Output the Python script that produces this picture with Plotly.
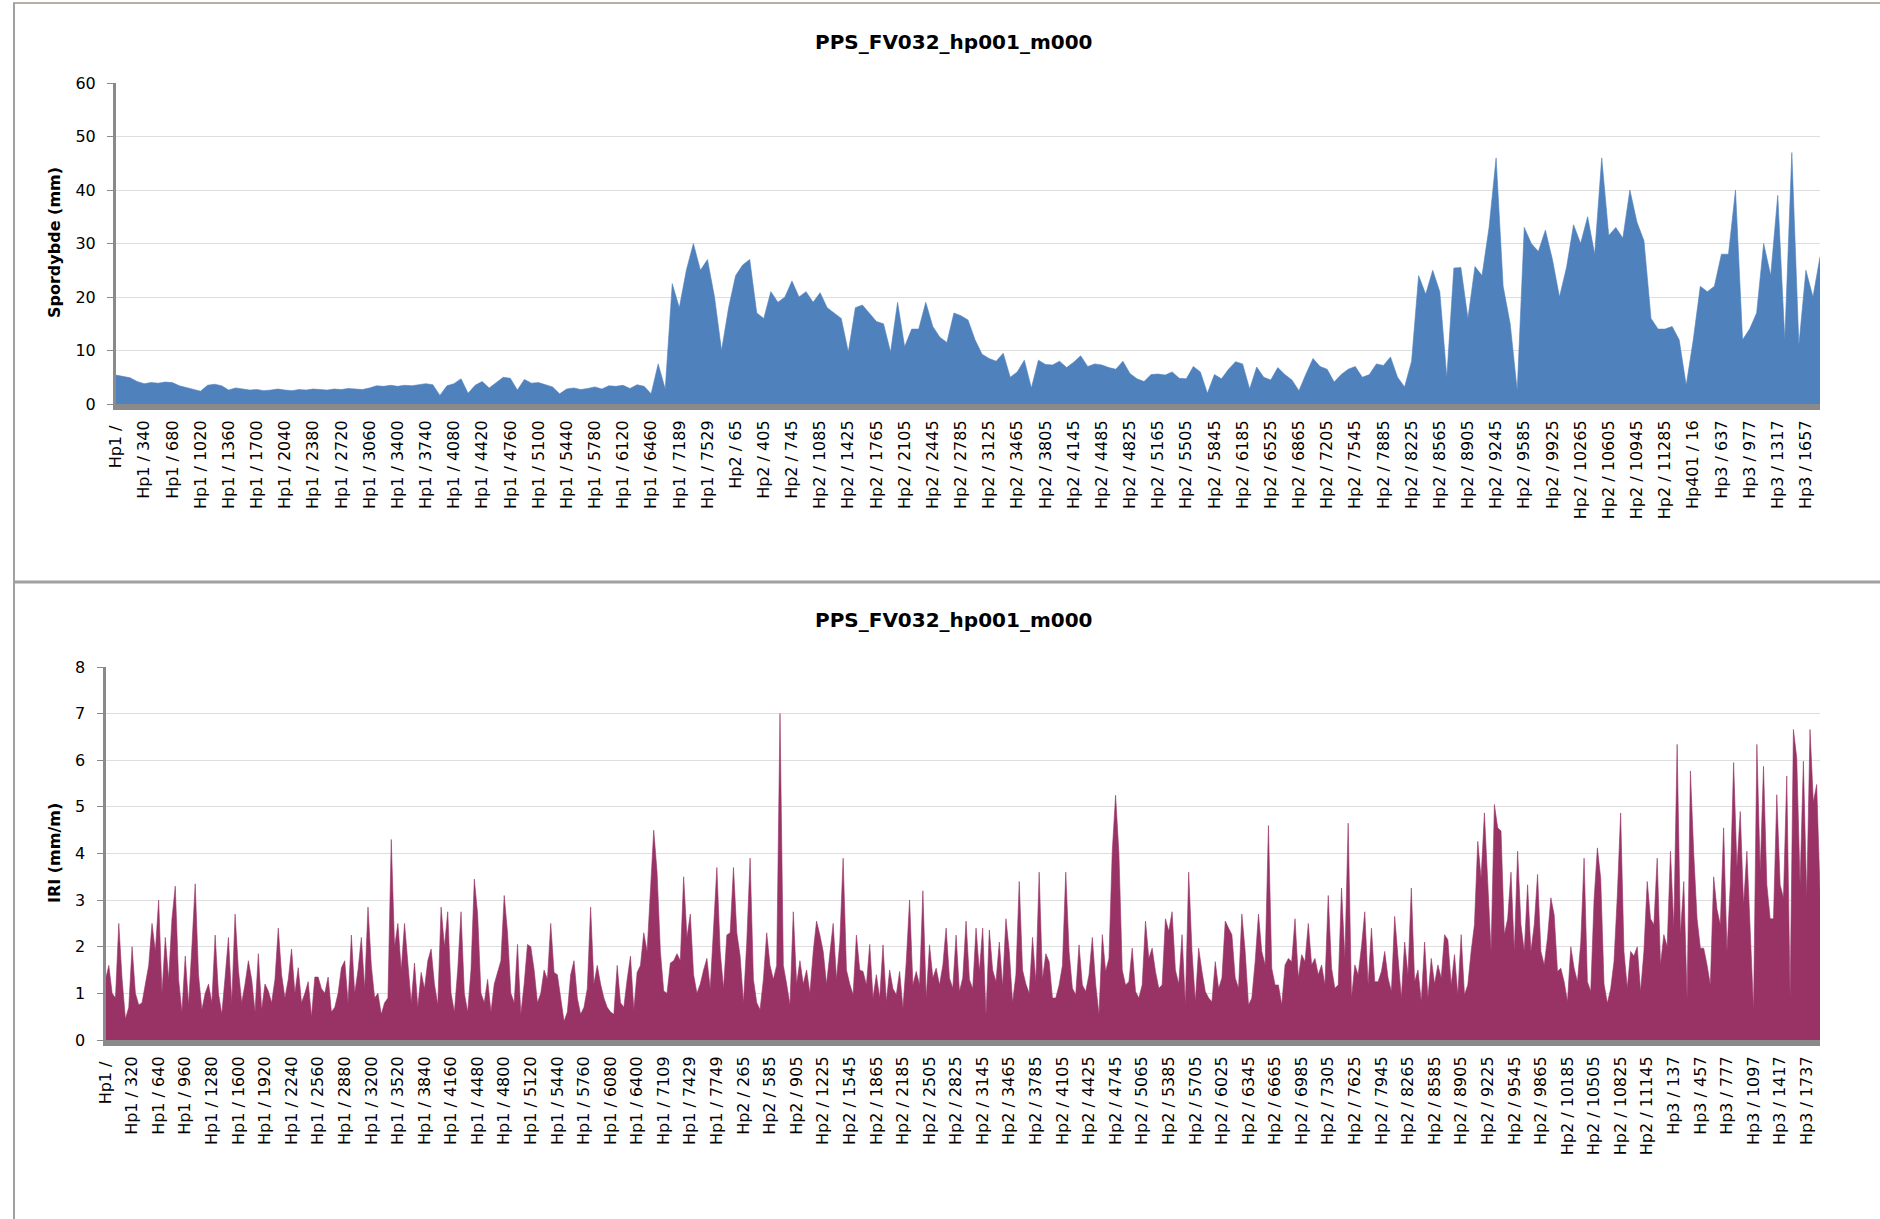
import numpy as np
import plotly.graph_objects as go

# ---------------- data ----------------
# Spordybde (mm): 4 readings per labelled interval (labels every 340 m)
rut_depth = [
    5.4, 5.2, 4.9, 4.2,   3.8, 4.0, 3.9, 4.1,   4.0, 3.4, 3.1, 2.7,   2.4, 3.5, 3.7, 3.4,
    2.6, 3.0, 2.8, 2.6,   2.7, 2.5, 2.6, 2.8,   2.6, 2.5, 2.7, 2.6,   2.8, 2.7, 2.6, 2.8,
    2.7, 2.9, 2.8, 2.7,   3.0, 3.4, 3.3, 3.5,   3.3, 3.5, 3.4, 3.6,   3.8, 3.6, 1.6, 3.4,
    3.8, 4.7, 2.0, 3.5,   4.2, 3.0, 4.0, 5.0,   4.8, 2.6, 4.6, 3.9,   4.0, 3.6, 3.2, 1.9,
    2.8, 3.0, 2.7, 2.9,   3.2, 2.8, 3.4, 3.3,   3.5, 2.9, 3.6, 3.3,   1.9, 7.5, 2.8, 22.5,
    18, 25, 30, 25,       27, 20, 10, 18,       24, 26, 27, 17,       16, 21, 19, 20,
    23, 20, 21, 19,       20.8, 18, 17, 16,     9.7, 18, 18.5, 17,    15.4, 15, 9.7, 19,
    10.7, 14, 14, 19,     14.5, 12.5, 11.5, 17, 16.5, 15.7, 12, 9.3,  8.5, 8, 9.5, 5,
    6, 8.2, 3, 8.2,       7.4, 7.3, 8, 6.8,     7.8, 9, 7, 7.5,       7.3, 6.8, 6.5, 8,
    5.7, 4.7, 4.2, 5.5,   5.6, 5.4, 6.0, 4.8,   4.7, 7.0, 6, 2,       5.5, 4.7, 6.5, 7.9,
    7.5, 2.8, 6.9, 5,     4.5, 6.8, 5.5, 4.5,   2.5, 5.6, 8.5, 7,     6.5, 4.1, 5.5, 6.5,
    7, 5, 5.5, 7.5,       7.2, 8.8, 5, 3.2,     8, 24, 20.5, 25,      21, 5, 25.4, 25.5,
    16, 25.7, 24, 33,     46, 22, 15, 2.5,      33, 30, 28.5, 32.5,   27, 20, 25.5, 33.5,
    30, 35, 28, 46,       31.5, 33, 31, 40,     34, 30.5, 16, 14,     14, 14.5, 12, 3.5,
    12, 22, 21, 22,       28, 28, 40, 12,       14, 17, 30, 24,       39, 12, 47, 11,
    25, 20, 27.5,
]

# IRI (mm/m): 8 readings per labelled interval (labels every 320 m)
iri = [
    1.3, 1.6, 1.0, 0.9, 2.5, 1.3, 0.45, 0.7,
    2.0, 1.0, 0.75, 0.8, 1.2, 1.6, 2.5, 1.9,
    3.0, 1.0, 2.2, 1.3, 2.6, 3.3, 1.3, 0.6,
    1.8, 0.75, 2.0, 3.35, 1.4, 0.65, 1.0, 1.2,
    0.8, 2.25, 1.0, 0.55, 1.35, 2.2, 0.8, 2.7,
    1.5, 0.8, 1.2, 1.7, 1.3, 0.6, 1.85, 0.65,
    1.2, 1.05, 0.8, 1.3, 2.4, 1.4, 0.9, 1.3,
    1.95, 1.0, 1.55, 0.8, 1.0, 1.25, 0.5, 1.35,
    1.35, 1.1, 1.0, 1.35, 0.6, 0.7, 1.0, 1.55,
    1.7, 0.8, 2.25, 1.0, 1.5, 2.2, 1.1, 2.85,
    1.6, 0.9, 1.0, 0.55, 0.8, 0.9, 4.3, 2.0,
    2.5, 1.5, 2.5, 1.6, 0.8, 1.65, 0.7, 1.45,
    1.1, 1.7, 1.95, 1.2, 0.75, 2.85, 2.0, 2.75,
    1.0, 0.6, 1.5, 2.75, 1.0, 0.6, 1.5, 3.45,
    2.7, 1.0, 0.8, 1.3, 0.6, 1.2, 1.45, 1.7,
    3.1, 2.3, 1.0, 0.8, 2.05, 0.55, 1.2, 2.05,
    2.0, 1.5, 0.8, 1.0, 1.5, 1.3, 2.5, 1.45,
    1.4, 0.95, 0.4, 0.6, 1.4, 1.7, 0.9, 0.55,
    0.7, 1.1, 2.85, 1.2, 1.6, 1.2, 0.9, 0.7,
    0.6, 0.55, 1.6, 0.8, 0.7, 1.3, 1.8, 0.65,
    1.45, 1.6, 2.3, 1.9, 3.2, 4.5, 3.6, 1.9,
    1.05, 1.0, 1.65, 1.7, 1.85, 1.7, 3.5, 2.2,
    2.7, 1.4, 1.0, 1.2, 1.5, 1.75, 1.1, 2.5,
    3.7, 1.9, 1.1, 2.25, 2.3, 3.7, 2.3, 1.8,
    0.8, 2.1, 3.9, 1.3, 0.8, 0.65, 1.3, 2.3,
    1.6, 1.3, 1.6, 7.0, 1.6, 1.2, 0.75, 2.75,
    1.2, 1.7, 1.2, 1.5, 1.0, 1.9, 2.55, 2.25,
    1.9, 1.2, 1.8, 2.5, 1.3, 2.1, 3.9, 1.5,
    1.2, 0.97, 2.25, 1.5, 1.47, 1.18, 2.05, 0.9,
    1.4, 0.9, 2.04, 0.82, 1.5, 1.1, 0.97, 1.47,
    0.68, 1.68, 3.0, 1.18, 1.47, 1.18, 3.2, 0.9,
    2.04, 1.33, 1.54, 1.18, 1.6, 2.4, 1.33, 1.11,
    2.25, 1.04, 1.33, 2.55, 1.3, 1.1, 2.4, 1.47,
    2.4, 0.54, 2.36, 1.5, 1.25, 2.1, 1.15, 2.6,
    1.9, 0.8, 1.4, 3.4, 1.5, 1.2, 1.0, 2.2,
    1.25, 3.6, 1.3, 1.85, 1.68, 0.9, 0.9, 1.18,
    1.6, 3.6, 1.9, 1.11, 0.97, 2.04, 1.18, 1.04,
    1.4, 2.2, 1.2, 0.54, 2.26, 1.47, 1.75, 4.05,
    5.25, 4.0, 1.5, 1.18, 1.25, 1.97, 1.04, 0.9,
    1.18, 2.55, 1.75, 1.97, 1.47, 1.11, 1.18, 2.6,
    2.33, 2.75, 1.5, 1.2, 2.26, 0.75, 3.6, 1.9,
    0.82, 1.97, 1.47, 1.04, 0.9, 0.82, 1.68, 1.1,
    1.33, 2.55, 2.4, 2.26, 1.33, 1.11, 2.7, 1.9,
    0.75, 0.9, 1.68, 2.7, 1.9, 1.61, 4.6, 1.54,
    1.18, 1.18, 0.75, 1.61, 1.75, 1.68, 2.6, 1.33,
    1.83, 1.68, 2.5, 1.61, 1.75, 1.4, 1.61, 1.18,
    3.1, 1.54, 1.11, 1.18, 3.26, 1.75, 4.65, 0.9,
    1.61, 1.4, 2.0, 2.75, 1.18, 2.4, 1.25, 1.25,
    1.47, 1.9, 1.33, 1.04, 2.65, 1.68, 0.9, 2.1,
    1.4, 3.26, 1.25, 1.5, 0.82, 2.1, 0.9, 1.75,
    1.2, 1.61, 1.33, 2.26, 2.15, 1.18, 1.83, 0.97,
    2.26, 0.97, 1.18, 1.9, 2.47, 4.26, 3.47, 4.87,
    3.33, 1.9, 5.05, 4.55, 4.48, 2.26, 2.6, 3.6,
    1.9, 4.05, 2.47, 1.9, 3.33, 1.9, 2.47, 3.55,
    1.9, 1.61, 2.2, 3.05, 2.68, 1.47, 1.54, 1.25,
    0.82, 2.0, 1.54, 1.25, 2.1, 3.9, 1.25, 1.04,
    3.0, 4.12, 3.47, 1.2, 0.79, 1.1, 1.68, 3.1,
    4.87, 1.9, 1.11, 1.9, 1.8, 2.0, 1.04, 1.9,
    3.4, 2.6, 2.47, 3.9, 1.61, 2.26, 2.0, 4.05,
    2.4, 6.34, 2.26, 3.4, 0.9, 5.77, 4.0, 2.6,
    1.97, 1.97, 1.61, 1.18, 3.5, 2.8, 2.47, 4.55,
    1.9, 3.33, 5.95, 3.7, 4.9, 2.9, 4.05, 2.26,
    0.64, 6.34, 3.6, 5.87, 3.33, 2.6, 2.6, 5.26,
    3.33, 3.05, 5.66, 0.9, 6.66, 6.05, 3.33, 5.98,
    3.05, 6.66, 5.1, 5.48, 3.2,
]

top_ticks = [
    "Hp1 / ", "Hp1 / 340", "Hp1 / 680", "Hp1 / 1020", "Hp1 / 1360", "Hp1 / 1700",
    "Hp1 / 2040", "Hp1 / 2380", "Hp1 / 2720", "Hp1 / 3060", "Hp1 / 3400", "Hp1 / 3740",
    "Hp1 / 4080", "Hp1 / 4420", "Hp1 / 4760", "Hp1 / 5100", "Hp1 / 5440", "Hp1 / 5780",
    "Hp1 / 6120", "Hp1 / 6460", "Hp1 / 7189", "Hp1 / 7529", "Hp2 / 65", "Hp2 / 405",
    "Hp2 / 745", "Hp2 / 1085", "Hp2 / 1425", "Hp2 / 1765", "Hp2 / 2105", "Hp2 / 2445",
    "Hp2 / 2785", "Hp2 / 3125", "Hp2 / 3465", "Hp2 / 3805", "Hp2 / 4145", "Hp2 / 4485",
    "Hp2 / 4825", "Hp2 / 5165", "Hp2 / 5505", "Hp2 / 5845", "Hp2 / 6185", "Hp2 / 6525",
    "Hp2 / 6865", "Hp2 / 7205", "Hp2 / 7545", "Hp2 / 7885", "Hp2 / 8225", "Hp2 / 8565",
    "Hp2 / 8905", "Hp2 / 9245", "Hp2 / 9585", "Hp2 / 9925", "Hp2 / 10265", "Hp2 / 10605",
    "Hp2 / 10945", "Hp2 / 11285", "Hp401 / 16", "Hp3 / 637", "Hp3 / 977", "Hp3 / 1317",
    "Hp3 / 1657",
]

bottom_ticks = [
    "Hp1 / ", "Hp1 / 320", "Hp1 / 640", "Hp1 / 960", "Hp1 / 1280", "Hp1 / 1600",
    "Hp1 / 1920", "Hp1 / 2240", "Hp1 / 2560", "Hp1 / 2880", "Hp1 / 3200", "Hp1 / 3520",
    "Hp1 / 3840", "Hp1 / 4160", "Hp1 / 4480", "Hp1 / 4800", "Hp1 / 5120", "Hp1 / 5440",
    "Hp1 / 5760", "Hp1 / 6080", "Hp1 / 6400", "Hp1 / 7109", "Hp1 / 7429", "Hp1 / 7749",
    "Hp2 / 265", "Hp2 / 585", "Hp2 / 905", "Hp2 / 1225", "Hp2 / 1545", "Hp2 / 1865",
    "Hp2 / 2185", "Hp2 / 2505", "Hp2 / 2825", "Hp2 / 3145", "Hp2 / 3465", "Hp2 / 3785",
    "Hp2 / 4105", "Hp2 / 4425", "Hp2 / 4745", "Hp2 / 5065", "Hp2 / 5385", "Hp2 / 5705",
    "Hp2 / 6025", "Hp2 / 6345", "Hp2 / 6665", "Hp2 / 6985", "Hp2 / 7305", "Hp2 / 7625",
    "Hp2 / 7945", "Hp2 / 8265", "Hp2 / 8585", "Hp2 / 8905", "Hp2 / 9225", "Hp2 / 9545",
    "Hp2 / 9865", "Hp2 / 10185", "Hp2 / 10505", "Hp2 / 10825", "Hp2 / 11145", "Hp3 / 137",
    "Hp3 / 457", "Hp3 / 777", "Hp3 / 1097", "Hp3 / 1417", "Hp3 / 1737",
]

chart_title = "PPS_FV032_hp001_m000"
top_ytitle = "Spordybde (mm)"
bottom_ytitle = "IRI (mm/m)"

PTS_TOP = 4
PTS_BOT = 8

# ---------------- figure ----------------
W, H = 1880, 1219
BLUE = "#4F81BD"
PLUM = "#993366"
AXIS_GRAY = "#8a8a8a"
GRID = "#dedede"
FONT = "DejaVu Sans"

x_top = np.arange(len(rut_depth)) / PTS_TOP
x_bot = np.arange(len(iri)) / PTS_BOT

fig = go.Figure()
fig.add_trace(go.Scatter(
    x=x_top, y=rut_depth, xaxis="x", yaxis="y", mode="lines",
    line=dict(color=BLUE, width=0.6), fill="tozeroy", fillcolor=BLUE,
    hoverinfo="x+y", showlegend=False))
fig.add_trace(go.Scatter(
    x=x_bot, y=iri, xaxis="x2", yaxis="y2", mode="lines",
    line=dict(color=PLUM, width=0.6), fill="tozeroy", fillcolor=PLUM,
    hoverinfo="x+y", showlegend=False))


def px_x(v):
    return v / W


def px_y(v):
    return 1 - v / H


tickfont = dict(family=FONT, size=16, color="#000000")

xcommon = dict(tickmode="array", tickangle=-90, showgrid=False, zeroline=False,
               showline=True, linecolor=AXIS_GRAY, linewidth=6, ticks="",
               tickfont=tickfont, ticklabelstandoff=4, fixedrange=True, automargin=False)
ycommon = dict(showgrid=True, gridcolor=GRID, gridwidth=1, zeroline=False,
               showline=True, linecolor=AXIS_GRAY, linewidth=3, ticks="outside",
               ticklen=6, tickcolor=AXIS_GRAY, tickwidth=1, tickfont=tickfont,
               ticklabelstandoff=8, fixedrange=True, automargin=False)

fig.update_layout(
    width=W, height=H, margin=dict(l=0, r=0, t=0, b=0, pad=0), autosize=False,
    paper_bgcolor="white", plot_bgcolor="white",
    xaxis=dict(domain=[px_x(116), px_x(1820)], range=[0, (len(rut_depth) - 1) / PTS_TOP],
               tickvals=list(range(len(top_ticks))), ticktext=top_ticks, anchor="y", **xcommon),
    yaxis=dict(domain=[px_y(404), px_y(83)], range=[0, 60], dtick=10, anchor="x", **ycommon),
    xaxis2=dict(domain=[px_x(105.5), px_x(1820)], range=[0, (len(iri) - 1) / PTS_BOT],
                tickvals=list(range(len(bottom_ticks))), ticktext=bottom_ticks, anchor="y2", **xcommon),
    yaxis2=dict(domain=[px_y(1040), px_y(667)], range=[0, 8], dtick=1, anchor="x2", **ycommon),
)

annotations = [
    dict(text=f"<b>{chart_title}</b>", x=px_x(954), y=px_y(42), xref="paper", yref="paper",
         showarrow=False, font=dict(family=FONT, size=20, color="#000"), xanchor="center", yanchor="middle"),
    dict(text=f"<b>{chart_title}</b>", x=px_x(954), y=px_y(620), xref="paper", yref="paper",
         showarrow=False, font=dict(family=FONT, size=20, color="#000"), xanchor="center", yanchor="middle"),
    dict(text=f"<b>{top_ytitle}</b>", x=px_x(54), y=px_y(243), xref="paper", yref="paper",
         showarrow=False, textangle=-90, font=dict(family=FONT, size=16, color="#000"),
         xanchor="center", yanchor="middle"),
    dict(text=f"<b>{bottom_ytitle}</b>", x=px_x(54), y=px_y(853), xref="paper", yref="paper",
         showarrow=False, textangle=-90, font=dict(family=FONT, size=16, color="#000"),
         xanchor="center", yanchor="middle"),
]
fig.update_layout(annotations=annotations)

shapes = [
    # top frame edge
    dict(type="line", xref="paper", yref="paper", x0=px_x(13), x1=1, y0=px_y(3), y1=px_y(3),
         line=dict(color="#b8aea4", width=2)),
    # left frame edge
    dict(type="line", xref="paper", yref="paper", x0=px_x(14), x1=px_x(14), y0=0, y1=px_y(3),
         line=dict(color="#a0a0a0", width=2)),
    # separator between the two chart objects
    dict(type="line", xref="paper", yref="paper", x0=px_x(13), x1=1, y0=px_y(582), y1=px_y(582),
         line=dict(color="#a0a0a0", width=3)),
]
fig.update_layout(shapes=shapes)

fix_page = ("document.body.style.margin='0px';document.body.style.padding='0px';"
            "var gd=document.getElementById('{plot_id}');"
            "gd.style.position='absolute';gd.style.left='0px';gd.style.top='0px';")

fig.write_html("out.html", config=dict(displayModeBar=False), post_script=fix_page)
